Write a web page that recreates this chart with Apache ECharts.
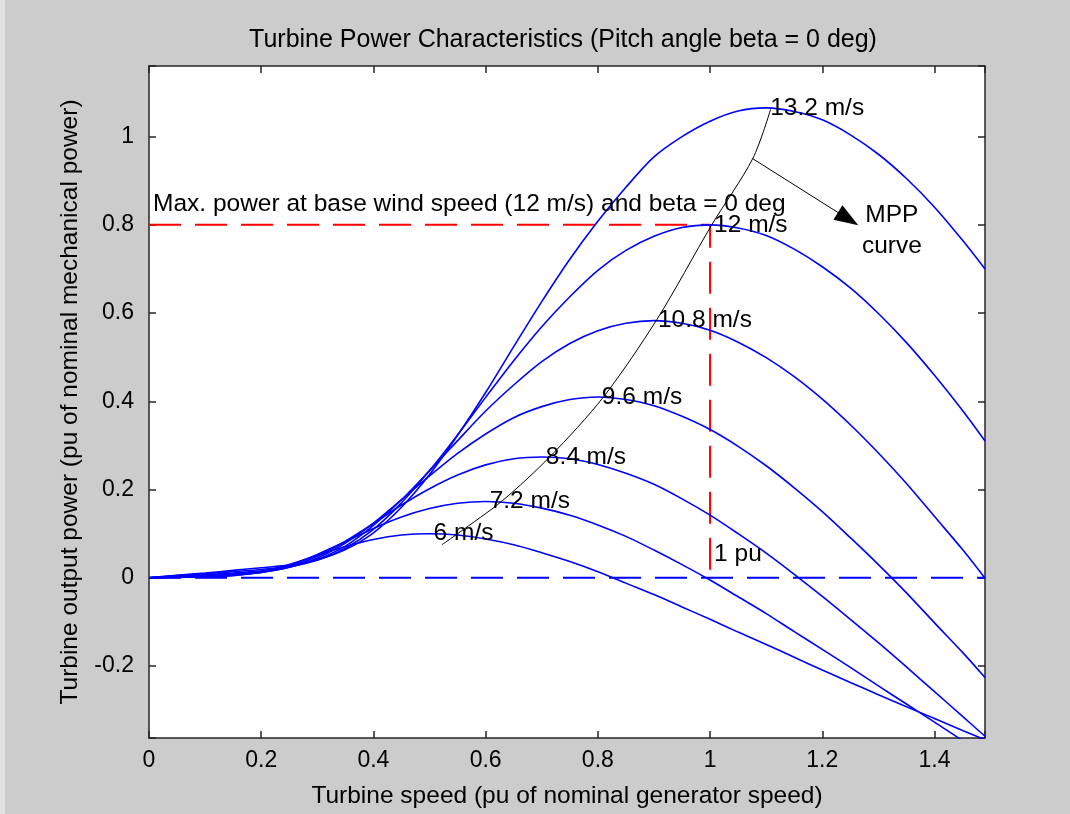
<!DOCTYPE html>
<html>
<head>
<meta charset="utf-8">
<script src="https://cdn.jsdelivr.net/npm/echarts@6/dist/echarts.min.js"></script>
<style>
html,body{margin:0;padding:0;background:#cccccc;}
#chart{width:1070px;height:814px;}
</style>
</head>
<body>
<div id="chart"></div>
<script>
// ---- data ----
const speed = [0,0.05,0.1,0.15,0.2,0.25,0.3,0.35,0.4,0.45,0.5,0.55,0.6,0.65,0.7,0.75,0.8,0.85,0.9,0.95,1.0,1.05,1.1,1.15,1.2,1.25,1.3,1.35,1.4,1.45,1.49];
const p132 = [0,0.006,0.011,0.017,0.023,0.029,0.041,0.064,0.102,0.160,0.234,0.323,0.420,0.524,0.626,0.722,0.808,0.885,0.954,1.000,1.035,1.058,1.065,1.057,1.038,1.004,0.960,0.905,0.840,0.765,0.700];
const p120 = [0,0.005,0.009,0.014,0.019,0.026,0.040,0.067,0.110,0.170,0.243,0.324,0.409,0.492,0.569,0.637,0.697,0.742,0.774,0.794,0.800,0.793,0.776,0.745,0.705,0.657,0.599,0.533,0.459,0.379,0.310];
const p108 = [0,0.004,0.007,0.011,0.016,0.024,0.042,0.072,0.119,0.177,0.243,0.311,0.378,0.437,0.490,0.531,0.560,0.577,0.583,0.577,0.561,0.534,0.499,0.456,0.405,0.347,0.283,0.214,0.139,0.064,-0.001];
const p096 = [0,0.003,0.006,0.009,0.013,0.024,0.045,0.079,0.124,0.177,0.231,0.282,0.326,0.363,0.388,0.404,0.410,0.404,0.390,0.366,0.336,0.298,0.254,0.204,0.150,0.091,0.030,-0.034,-0.102,-0.169,-0.226];
const p084 = [0,0.002,0.005,0.007,0.012,0.025,0.049,0.083,0.123,0.165,0.202,0.233,0.256,0.270,0.274,0.270,0.257,0.237,0.212,0.179,0.142,0.100,0.056,0.008,-0.042,-0.094,-0.147,-0.202,-0.258,-0.314,-0.359];
const p072 = [0,0.002,0.003,0.006,0.012,0.028,0.053,0.082,0.112,0.138,0.157,0.169,0.173,0.169,0.158,0.142,0.120,0.094,0.063,0.030,-0.005,-0.043,-0.081,-0.122,-0.162,-0.203,-0.245,-0.286,-0.327,-0.369,-0.401];
const p060 = [0,0.001,0.002,0.005,0.014,0.030,0.051,0.071,0.087,0.097,0.100,0.097,0.088,0.075,0.057,0.037,0.014,-0.012,-0.038,-0.066,-0.094,-0.123,-0.151,-0.180,-0.209,-0.237,-0.265,-0.292,-0.319,-0.346,-0.367];

// maximum power point curve
const mppX = [0.522,0.55,0.63,0.715,0.81,0.905,1.003,1.076,1.108];
const mppY = [0.075,0.10,0.175,0.275,0.41,0.585,0.80,0.950,1.062];

// reference lines
const baseX = [0,1,1];          // red dashed: 0.8 pu level, then down at 1 pu
const baseY = [0.8,0.8,0];
const zeroX = [0,1.49];         // blue dashed zero line
const zeroY = [0,0];

// arrow pointing at "MPP curve" (shaft start, arrow-head centre)
const arrowX = [1.076,1.246];
const arrowY = [0.950,0.8135];

// text annotations
const noteText = ['13.2 m/s','12 m/s','10.8 m/s','9.6 m/s','8.4 m/s','7.2 m/s','6 m/s','Max. power at base wind speed (12 m/s) and beta = 0 deg','1 pu'];
const noteX = [1.1,1.0,0.9,0.8,0.7,0.6,0.5,0.0,1.0];
const noteY = [1.065,0.8,0.583,0.41,0.274,0.173,0.1,0.847,0.053];
const mppText = ['MPP','curve'];
const mppTextX = [1.324,1.324];
const mppTextY = [0.821,0.752];

const xTickStep = 0.2;
const yTickStep = 0.2;

// ---- chart ----
const FONT = '"Liberation Sans", Arial, Helvetica, sans-serif';
const AX = '#262626';
const TXT = '#000000';
const chart = echarts.init(document.getElementById('chart'), null, {renderer:'canvas'});

function pairs(xs, ys){ return xs.map((x,i)=>[x, ys[i]]); }
function onStep(v, step){ const r = v/step; return Math.abs(r - Math.round(r)) < 1e-6; }
function tickFmt(step){ return v => onStep(v, step) ? String(+v.toFixed(1)) : ''; }

const curves = [p132,p120,p108,p096,p084,p072,p060];
const series = [];
curves.forEach(ys => series.push({
  type:'line', data: pairs(speed, ys), smooth:0.3, symbol:'none', clip:true,
  lineStyle:{color:'#0000ff', width:1.6}, z:3, silent:true
}));
series.push({
  type:'line', data: pairs(zeroX, zeroY), symbol:'none', clip:true,
  lineStyle:{color:'#0000ff', width:2, type:[32,14]}, z:2, silent:true
});
series.push({
  type:'line', data: pairs(baseX, baseY), symbol:'none', clip:true,
  lineStyle:{color:'#ff0000', width:2, type:[32,14]}, z:2, silent:true
});
series.push({
  type:'line', data: pairs(mppX, mppY), smooth:0.3, symbol:'none', clip:true,
  lineStyle:{color:'#000000', width:1}, z:4, silent:true
});
// arrow shaft
series.push({
  type:'line', data: pairs(arrowX, arrowY), symbol:'none', clip:false,
  lineStyle:{color:'#000000', width:1}, z:4, silent:true
});
// arrow head (triangle rotated along the shaft direction)
series.push({
  type:'scatter', data: [[arrowX[1], arrowY[1]]], symbol:'triangle', symbolSize:[17,24], symbolRotate:-122,
  itemStyle:{color:'#000000', opacity:1}, z:5, silent:true
});
series.push({
  type:'scatter', symbolSize:0, itemStyle:{color:'#000000', opacity:1}, z:6, silent:true,
  data: noteText.map((t,i)=>({name:t, value:[noteX[i], noteY[i]]})),
  label:{show:true, position:'right', distance:4, formatter:'{b}', color:TXT, opacity:1,
         fontFamily:FONT, fontSize:24.5}
});
series.push({
  type:'scatter', symbolSize:0, itemStyle:{color:'#000000', opacity:1}, z:6, silent:true,
  data: mppText.map((t,i)=>({name:t, value:[mppTextX[i], mppTextY[i]]})),
  label:{show:true, position:'inside', align:'center', verticalAlign:'middle', formatter:'{b}', color:TXT, opacity:1,
         textBorderWidth:0, fontFamily:FONT, fontSize:24.5}
});

function makeX(pos, main){
  return {
    type:'value', position:pos, min:0, max:1.49, interval:xTickStep,
    axisLine:{show:true, onZero:false, lineStyle:{color:AX, width:1.5}},
    axisTick:{show:true, inside:true, length:7, lineStyle:{color:AX, width:1.5}},
    axisLabel:{show:main, formatter:tickFmt(xTickStep), color:TXT, fontFamily:FONT, fontSize:23, margin:11},
    splitLine:{show:false},
    name: main ? 'Turbine speed (pu of nominal generator speed)' : '',
    nameLocation:'middle', nameGap:46,
    nameTextStyle:{color:TXT, fontFamily:FONT, fontSize:24.5}
  };
}
function makeY(pos, main){
  return {
    type:'value', position:pos, min:-0.363, max:1.16, splitNumber:8,
    axisLine:{show:true, onZero:false, lineStyle:{color:AX, width:1.5}},
    axisTick:{show:true, inside:true, length:7, lineStyle:{color:AX, width:1.5}},
    axisLabel:{show:main, formatter:tickFmt(yTickStep), color:TXT, fontFamily:FONT, fontSize:23, margin:15},
    splitLine:{show:false},
    name: main ? 'Turbine output power (pu of nominal mechanical power)' : '',
    nameLocation:'middle', nameGap:66, nameRotate:90,
    nameTextStyle:{color:TXT, fontFamily:FONT, fontSize:24.5}
  };
}

chart.setOption({
  animation:false,
  backgroundColor:'#cccccc',
  graphic:[
    {type:'rect', left:0, top:0, shape:{width:5, height:814}, style:{fill:'#e2e2e2'}, silent:true},
    {type:'text', x:563, y:40, style:{text:'Turbine Power Characteristics (Pitch angle beta = 0 deg)',
      fill:TXT, font:'25px "Liberation Sans", Arial, sans-serif', textAlign:'center', textVerticalAlign:'middle'}}
  ],
  grid:{left:149, right:85, top:66, bottom:75, show:true, backgroundColor:'#ffffff', borderWidth:0, containLabel:false},
  xAxis:[makeX('bottom', true), makeX('top', false)],
  yAxis:[makeY('left', true), makeY('right', false)],
  series: series
});
</script>
</body>
</html>
